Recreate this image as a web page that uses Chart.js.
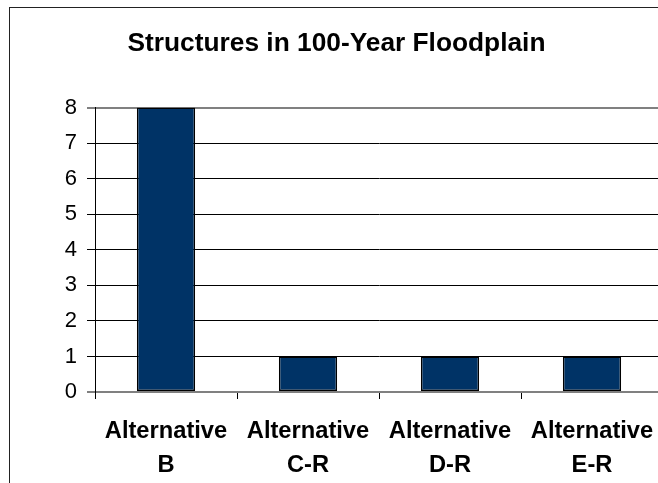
<!DOCTYPE html>
<html>
<head>
<meta charset="utf-8">
<script src="https://cdn.jsdelivr.net/npm/chart.js@4"></script>
<style>
  html, body { margin: 0; padding: 0; background: #fff; overflow: hidden; }
  #chart { position: absolute; left: 0; top: 0; }
  #frame { position: absolute; left: 9px; top: 7px; width: 700px; height: 500px;
           border-left: 1px solid #222; border-top: 1px solid #222; pointer-events: none; }
</style>
</head>
<body>
<canvas id="chart" width="663" height="483"></canvas>
<div id="frame"></div>
<script>
// data
const chartTitle = 'Structures in 100-Year Floodplain';
const categories = [['Alternative', 'B'], ['Alternative', 'C-R'], ['Alternative', 'D-R'], ['Alternative', 'E-R']];
const structures = [8, 1, 1, 1];
const yTicks = [0, 1, 2, 3, 4, 5, 6, 7, 8];

const FONT = "'Liberation Sans', Arial, sans-serif";

const ctx = document.getElementById('chart').getContext('2d');
new Chart(ctx, {
  type: 'bar',
  data: {
    labels: categories,
    datasets: [{
      label: 'Structures',
      data: structures,
      backgroundColor: '#003366',
      borderColor: '#000000',
      borderWidth: 1.5,
      borderSkipped: false,
      categoryPercentage: 1,
      barPercentage: 0.41
    }]
  },
  options: {
    responsive: false,
    animation: false,
    layout: { padding: { left: 10, right: 0, top: 0, bottom: 0 } },
    plugins: {
      legend: { display: false },
      tooltip: { enabled: false },
      title: {
        display: true,
        text: chartTitle,
        color: '#000',
        font: { family: FONT, size: 26.3, weight: 'bold', lineHeight: 1.2 },
        padding: { top: 28, bottom: 48 }
      }
    },
    scales: {
      x: {
        offset: true,
        grid: { display: true, drawOnChartArea: false, tickLength: 7, color: '#000' },
        border: { color: '#808080', width: 2 },
        ticks: {
          color: '#000',
          font: { family: FONT, size: 23.7, weight: 'bold', lineHeight: 1.45 },
          padding: 15,
          maxRotation: 0,
          autoSkip: false
        },
        afterFit: s => { s.height = 91; s.paddingLeft = 0; s.paddingRight = 0; }
      },
      y: {
        min: 0,
        max: 8,
        afterBuildTicks: s => { s.ticks = yTicks.map(v => ({ value: v })); },
        grid: {
          color: c => (c.tick && (c.tick.value === 8 || c.tick.value === 0)) ? '#808080' : '#000',
          lineWidth: c => (c.tick && (c.tick.value === 8 || c.tick.value === 0)) ? 2 : 1,
          tickLength: 8
        },
        border: { color: '#000', width: 1 },
        ticks: {
          color: '#000',
          font: { family: FONT, size: 22 },
          padding: 10
        },
        afterFit: s => { s.width = 85; }
      }
    }
  }
});
</script>
</body>
</html>
